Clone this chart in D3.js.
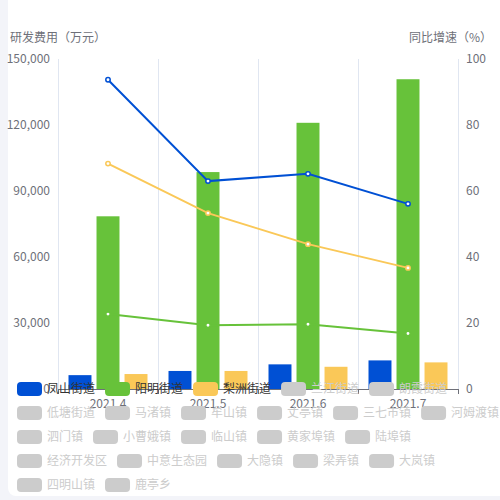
<!DOCTYPE html>
<html>
<head>
<meta charset="utf-8">
<script src="https://cdn.jsdelivr.net/npm/d3@7"></script>
<style>
    body { margin: 0; background: #f3f4f9; }
    svg { display: block; }
</style>
</head>
<body>
<script>
// data
var months = ["2021.4", "2021.5", "2021.6", "2021.7"];
var barSeries = ["凤山街道", "阳明街道", "梨洲街道"];
var fengshanCost = [6300, 8200, 11200, 13000];
var yangmingCost = [78500, 98600, 121000, 140800];
var lizhouCost = [6800, 8200, 10100, 12100];
var fengshanRate = [93.7, 63.0, 65.2, 56.1];
var yangmingRate = [22.7, 19.3, 19.6, 16.8];
var lizhouRate = [68.3, 53.3, 43.9, 36.7];
var leftTicks = [0, 30000, 60000, 90000, 120000, 150000];
var rightTicks = [0, 20, 40, 60, 80, 100];
var legendNames = ["凤山街道", "阳明街道", "梨洲街道", "兰江街道", "朗霞街道", "低塘街道", "马渚镇",
    "牟山镇", "丈亭镇", "三七市镇", "河姆渡镇", "泗门镇", "小曹娥镇", "临山镇", "黄家埠镇", "陆埠镇",
    "经济开发区", "中意生态园", "大隐镇", "梁弄镇", "大岚镇", "四明山镇", "鹿亭乡"];

var colors = ["#0050d4", "#67c23a", "#fac858"];
var costs = [fengshanCost, yangmingCost, lizhouCost];
var rates = [fengshanRate, yangmingRate, lizhouRate];
var font = "'Noto Sans CJK SC', 'Noto Sans', sans-serif";

var w = 500;
var h = 500;
var plotLeft = 58, plotRight = 458, plotTop = 59, plotBottom = 389;

var svg = d3.select("body")
    .append("svg")
    .attr("width", w)
    .attr("height", h)
    .style("font-family", font);

// white card
svg.append("rect")
    .attr("x", 8).attr("y", -10)
    .attr("width", 510).attr("height", 506)
    .attr("rx", 8)
    .attr("fill", "#fff");

var xScale = d3.scaleBand()
    .domain(months)
    .range([plotLeft, plotRight])
    .padding(0);

var inner = d3.scaleBand()
    .domain(barSeries)
    .range([0, xScale.bandwidth()])
    .paddingInner(0.18)
    .paddingOuter(0.375);

var yLeft = d3.scaleLinear().domain([0, 150000]).range([plotBottom, plotTop]);
var yRight = d3.scaleLinear().domain([0, 100]).range([plotBottom, plotTop]);

// vertical grid lines at category boundaries
var bounds = months.map(function (m) { return xScale(m); }).concat([plotRight]);
svg.selectAll("line.grid")
    .data(bounds)
    .enter()
    .append("line")
    .attr("class", "grid")
    .attr("x1", function (d) { return d + 0.5; })
    .attr("x2", function (d) { return d + 0.5; })
    .attr("y1", plotTop)
    .attr("y2", plotBottom)
    .attr("stroke", "#e0e6f1");

// bars
barSeries.forEach(function (s, i) {
    svg.selectAll("rect.bar" + i)
        .data(costs[i])
        .enter()
        .append("rect")
        .attr("class", "bar" + i)
        .attr("x", function (d, j) { return xScale(months[j]) + inner(s); })
        .attr("y", function (d) { return yLeft(d); })
        .attr("width", inner.bandwidth())
        .attr("height", function (d) { return plotBottom - yLeft(d); })
        .attr("fill", colors[i]);
});

// growth lines
var line = d3.line()
    .x(function (d, j) { return xScale(months[j]) + xScale.bandwidth() / 2; })
    .y(function (d) { return yRight(d); });

rates.forEach(function (r, i) {
    svg.append("path")
        .datum(r)
        .attr("fill", "none")
        .attr("stroke", colors[i])
        .attr("stroke-width", 2)
        .attr("d", line);
    svg.selectAll("circle.pt" + i)
        .data(r)
        .enter()
        .append("circle")
        .attr("class", "pt" + i)
        .attr("cx", function (d, j) { return xScale(months[j]) + xScale.bandwidth() / 2; })
        .attr("cy", function (d) { return yRight(d); })
        .attr("r", 2.2)
        .attr("fill", "#fff")
        .attr("stroke", colors[i])
        .attr("stroke-width", 1.5);
});

// axes
var xAxis = d3.axisBottom(xScale).tickSize(0).tickPadding(10);
var gx = svg.append("g")
    .attr("transform", "translate(0," + plotBottom + ")")
    .call(xAxis);
gx.select(".domain").attr("stroke", "#6e7079");
gx.selectAll("text").attr("fill", "#6e7079").style("font-size", "12px").style("font-family", font);
gx.selectAll("line.btick")
    .data(bounds)
    .enter()
    .append("line")
    .attr("class", "btick")
    .attr("x1", function (d) { return d + 0.5; })
    .attr("x2", function (d) { return d + 0.5; })
    .attr("y1", 0)
    .attr("y2", 5)
    .attr("stroke", "#6e7079");

var yAxisL = d3.axisLeft(yLeft)
    .tickValues(leftTicks)
    .tickSize(0)
    .tickPadding(8)
    .tickFormat(d3.format(","));
var gl = svg.append("g")
    .attr("transform", "translate(" + plotLeft + ",0)")
    .call(yAxisL);
gl.select(".domain").remove();
gl.selectAll("text").attr("fill", "#6e7079").style("font-size", "12px").style("font-family", font);

var yAxisR = d3.axisRight(yRight)
    .tickValues(rightTicks)
    .tickSize(0)
    .tickPadding(8);
var gr = svg.append("g")
    .attr("transform", "translate(" + plotRight + ",0)")
    .call(yAxisR);
gr.select(".domain").remove();
gr.selectAll("text").attr("fill", "#6e7079").style("font-size", "12px").style("font-family", font);

// axis names
svg.append("text")
    .attr("x", 10).attr("y", 42)
    .attr("fill", "#6e7079")
    .style("font-size", "12px")
    .text("研发费用（万元）");
svg.append("text")
    .attr("x", 492).attr("y", 42)
    .attr("text-anchor", "end")
    .attr("fill", "#6e7079")
    .style("font-size", "12px")
    .text("同比增速（%）");

// legend, wrapping like echarts
var lx = 17, ly = 382, maxX = 500;
var legend = svg.append("g");
legendNames.forEach(function (name, i) {
    var active = i < barSeries.length;
    var g = legend.append("g");
    var t = g.append("text")
        .attr("x", 30)
        .attr("y", 7)
        .attr("dy", "0.35em")
        .attr("fill", active ? "#333" : "#ccc")
        .style("font-size", "12px")
        .text(name);
    var tw = t.node().getComputedTextLength();
    var itemW = 30 + tw;
    if (lx + itemW > maxX) {
        lx = 17;
        ly += 24;
    }
    g.attr("transform", "translate(" + lx + "," + ly + ")");
    g.insert("rect", "text")
        .attr("width", 25)
        .attr("height", 14)
        .attr("rx", 4)
        .attr("fill", active ? colors[i] : "#ccc");
    lx += itemW + 10;
});
</script>
</body>
</html>
